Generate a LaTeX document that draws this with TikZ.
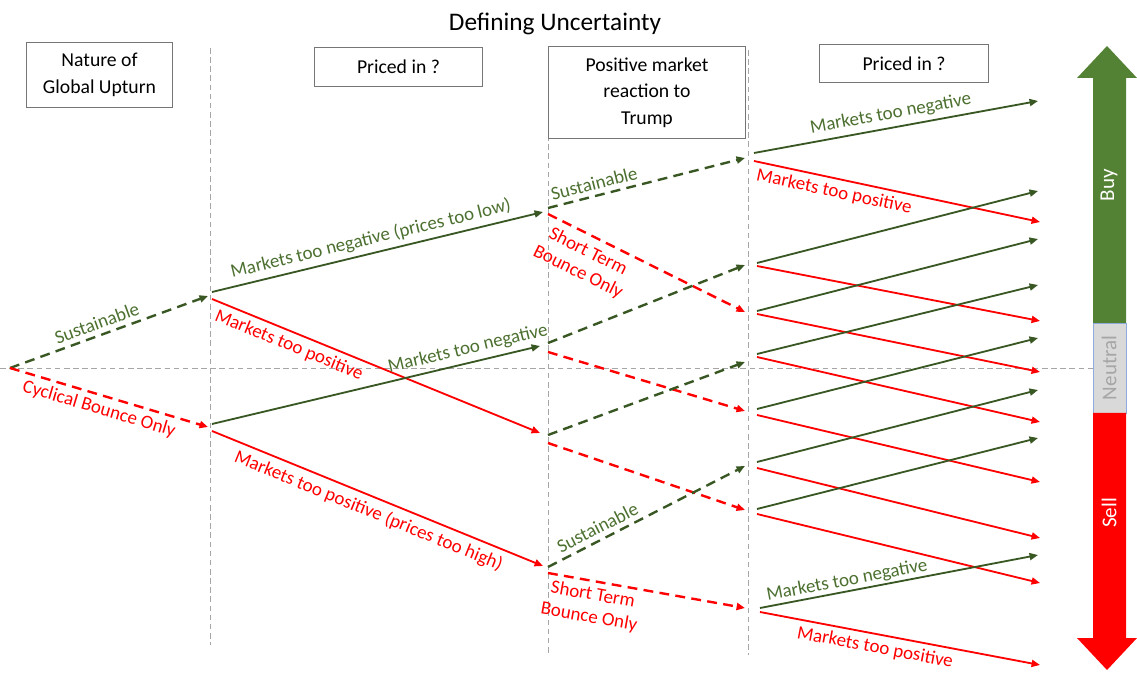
\documentclass[tikz,border=0pt]{standalone}
\usepackage{fontspec}
\setmainfont{Carlito}
\usetikzlibrary{arrows.meta}

\definecolor{linegreen}{RGB}{56,87,35}
\definecolor{textgreen}{RGB}{76,112,48}
\definecolor{buygreen}{RGB}{84,130,53}
\definecolor{guidegray}{RGB}{166,166,166}
\definecolor{boxgray}{RGB}{118,118,118}
\definecolor{neutralfill}{RGB}{217,217,217}
\definecolor{neutraledge}{RGB}{143,170,220}

\newcommand\lblfnt{\fontsize{13.5}{16}\selectfont}
\newcommand\boxfnt{\fontsize{14}{19}\selectfont}
\newcommand\ttlfnt{\fontsize{18}{22}\selectfont}
\newcommand\barfnt{\fontsize{15}{18}\selectfont}

\begin{document}
\begin{tikzpicture}[
    x=0.025cm, y=-0.025cm,
    box/.style={rectangle, draw=boxgray, line width=0.7pt, align=center, font=\boxfnt, inner sep=2pt},
    guide/.style={guidegray, line width=0.7pt, dash pattern=on 4pt off 2.5pt},
    tip/.style={-{Triangle[length=6pt,width=5pt]}},
    gline/.style={tip, line width=1.3pt, linegreen},
    rline/.style={tip, line width=1.3pt, red},
    gdashed/.style={gline, line width=1.7pt, dash pattern=on 7pt off 4.5pt},
    rdashed/.style={rline, line width=1.7pt, dash pattern=on 7pt off 4.5pt},
    glabel/.style={sloped, text=textgreen, font=\lblfnt, align=center},
    rlabel/.style={sloped, text=red, font=\lblfnt, align=center}
]
\useasboundingbox (0,0) rectangle (1137,674);

% Title
\node[font=\ttlfnt] (title) at (555,24) {Defining Uncertainty};

% Guide lines
\draw[guide] (210,48) -- (210,645);
\draw[guide] (548,62) -- (548,655);
\draw[guide] (748,50) -- (748,655);
\draw[guide] (0,368) -- (1093,368);

% Header boxes
\node[box, minimum width=3.63cm, minimum height=1.6cm] (nature) at (99.5,75) {Nature of\\Global Upturn};
\node[box, minimum width=4.22cm, minimum height=0.95cm] (priced1) at (398.5,67) {Priced in ?};
\node[box, minimum width=4.9cm, minimum height=2.28cm] (trump) at (647,92.5) {Positive market\\reaction to\\Trump};
\node[box, minimum width=4.2cm, minimum height=0.93cm] (priced2) at (904,63.5) {Priced in ?};

% Tree points
\coordinate (root) at (10,368);
\coordinate (A1in) at (208,296);
\coordinate (A2in) at (208,427);
\coordinate (A1g) at (212,292);
\coordinate (A1r) at (212,299);
\coordinate (A2g) at (212,424);
\coordinate (A2r) at (212,431);

\coordinate (B1in) at (543,212);
\coordinate (B2in) at (540,346);
\coordinate (B3in) at (540,433);
\coordinate (B4in) at (543,566);
\coordinate (B1g) at (548,208);
\coordinate (B1r) at (548,214);
\coordinate (B2g) at (548,343);
\coordinate (B2r) at (548,352);
\coordinate (B3g) at (548,435);
\coordinate (B3r) at (548,443);
\coordinate (B4g) at (548,567);
\coordinate (B4r) at (548,573);

\coordinate (C1in) at (745,158);
\coordinate (C2in) at (745,265);
\coordinate (C3in) at (745,312);
\coordinate (C4in) at (745,362);
\coordinate (C5in) at (745,411);
\coordinate (C6in) at (745,466);
\coordinate (C7in) at (745,510);
\coordinate (C8in) at (745,608);

% Stage 1
\draw[gdashed] (root) -- node[glabel, above, pos=0.46] (sus0) {Sustainable} (A1in);
\draw[rdashed] (root) -- node[rlabel, below, pos=0.47] (cyc0) {Cyclical Bounce Only} (A2in);

% Stage 2
\draw[gline] (A1g) -- node[glabel, above, pos=0.49] (neg1) {Markets too negative (prices too low)} (B1in);
\draw[rline] (A1r) -- node[rlabel, below, pos=0.25] (pos1) {Markets too positive} (B3in);
\draw[gline] (A2g) -- node[glabel, above, pos=0.79] (neg2) {Markets too negative} (B2in);
\draw[rline] (A2r) -- node[rlabel, below, pos=0.49, inner sep=4pt] (pos2) {Markets too positive (prices too high)} (B4in);

% Stage 3
\draw[gdashed] (B1g) -- node[glabel, above, pos=0.25] (sus1) {Sustainable} (C1in);
\draw[rdashed] (B1r) -- node[rlabel, below, pos=0.24, inner sep=5pt] (short1) {Short Term\\Bounce Only} (C3in);
\draw[gdashed] (B2g) -- (C2in);
\draw[rdashed] (B2r) -- (C5in);
\draw[gdashed] (B3g) -- (C4in);
\draw[rdashed] (B3r) -- (C7in);
\draw[gdashed] (B4g) -- node[glabel, above, pos=0.28] (sus2) {Sustainable} (C6in);
\draw[rdashed] (B4r) -- node[rlabel, below, pos=0.24] (short2) {Short Term\\Bounce Only} (C8in);

% Stage 4
\coordinate (C1g) at (754,153);  \coordinate (D1g) at (1038,101);
\coordinate (C1r) at (754,161);  \coordinate (D1r) at (1040,222);
\coordinate (C2g) at (757,263);  \coordinate (D2g) at (1038,191);
\coordinate (C2r) at (757,266);  \coordinate (D2r) at (1040,321);
\coordinate (C3g) at (757,311);  \coordinate (D3g) at (1038,239);
\coordinate (C3r) at (757,314);  \coordinate (D3r) at (1040,372);
\coordinate (C4g) at (757,354);  \coordinate (D4g) at (1038,285);
\coordinate (C4r) at (757,357);  \coordinate (D4r) at (1040,422);
\coordinate (C5g) at (757,409);  \coordinate (D5g) at (1038,338);
\coordinate (C5r) at (757,415);  \coordinate (D5r) at (1040,482);
\coordinate (C6g) at (757,462);  \coordinate (D6g) at (1038,390);
\coordinate (C6r) at (757,468);  \coordinate (D6r) at (1040,538);
\coordinate (C7g) at (757,509);  \coordinate (D7g) at (1038,438);
\coordinate (C7r) at (757,514);  \coordinate (D7r) at (1040,583);
\coordinate (C8g) at (760,608);  \coordinate (D8g) at (1038,555);
\coordinate (C8r) at (760,612);  \coordinate (D8r) at (1040,665);

\draw[gline] (C1g) -- node[glabel, above, pos=0.49] (neg3) {Markets too negative} (D1g);
\draw[rline] (C1r) -- node[rlabel, below, pos=0.29] (pos3) {Markets too positive} (D1r);
\foreach \i in {2,...,7}{
  \draw[gline] (C\i g) -- (D\i g);
  \draw[rline] (C\i r) -- (D\i r);
}
\draw[gline] (C8g) -- node[glabel, above, pos=0.32, inner sep=1pt] (neg4) {Markets too negative} (D8g);
\draw[rline] (C8r) -- node[rlabel, below, pos=0.42] (pos4) {Markets too positive} (D8r);

% Buy / Neutral / Sell bar
\fill[buygreen] (1093,323) -- (1093,78) -- (1077,78) -- (1107,46) -- (1137,78) -- (1126,78) -- (1126,323) -- cycle;
\draw[neutraledge, fill=neutralfill, line width=0.7pt] (1093,323) rectangle (1126,413);
\fill[red] (1093,413) -- (1093,638) -- (1077,638) -- (1107,670) -- (1137,638) -- (1126,638) -- (1126,413) -- cycle;
\node[rotate=90, text=white, font=\barfnt] (buy) at (1109,185) {Buy};
\node[rotate=90, text=guidegray, font=\barfnt] (neutral) at (1109,368) {Neutral};
\node[rotate=90, text=white, font=\barfnt] (sell) at (1109,513) {Sell};

\end{tikzpicture}
\end{document}
